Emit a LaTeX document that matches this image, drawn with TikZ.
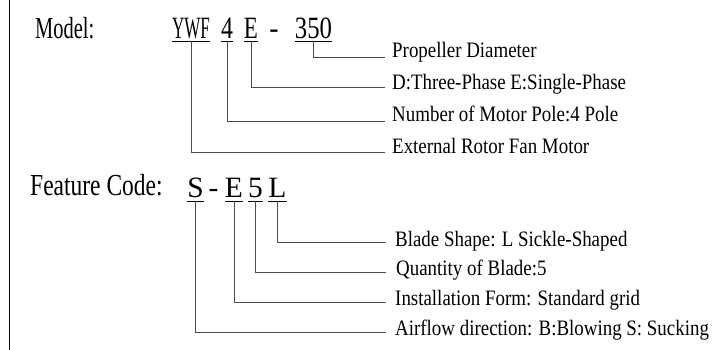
\documentclass[tikz,border=0pt]{standalone}
\usepackage{fontspec}
\setmainfont{Liberation Serif}
\newfontfamily\serD[FakeStretch=0.86]{Liberation Serif}
\newfontfamily\serF{Liberation Serif}
\newcommand{\xsq}[2]{\scalebox{#1}[1]{#2}}
\tikzset{
  desc/.style={anchor=base west,inner sep=0pt,font=\serD\fontsize{22}{22}\selectfont},
  codeM/.style={anchor=base,inner sep=0pt,text depth=0pt,font=\serF\fontsize{31}{31}\selectfont},
  codeF/.style={anchor=base,inner sep=0pt,text depth=0pt,font=\serF\fontsize{29.5}{29.5}\selectfont},
  lab/.style={anchor=base west,inner sep=0pt,font=\serF\fontsize{30.5}{30.5}\selectfont},
  conn/.style={draw=black!70,line width=0.9pt},
  uline/.style={draw=black,line width=0.9pt}
}
\begin{document}
\begin{tikzpicture}[x=1pt,y=-1pt]
\useasboundingbox (0,0) rectangle (720,350);
\draw[line width=1pt] (9.5,0) -- (9.5,350);

% Model line
\node[lab] (model) at (35,38.5) {\xsq{0.67}{Model:}};
\node[codeM,minimum width=38pt] (ywf) at (191,39) {\xsq{0.55}{YWF}};
\node[codeM,minimum width=12pt] (m4) at (227,39) {\xsq{0.77}{4}};
\node[codeM,minimum width=14pt] (me) at (251,39) {\xsq{0.74}{E}};
\node[codeM] (mdash) at (274,39) {\xsq{0.9}{-}};
\node[codeM,minimum width=37pt] (m350) at (313.5,39) {\xsq{0.8}{350}};
\foreach \n in {ywf,m4,me,m350}{
  \draw[uline] ([yshift=-2pt]\n.south west) -- ([yshift=-2pt]\n.south east);
}

\coordinate (c1) at (385,57);
\coordinate (c2) at (385,87);
\coordinate (c3) at (385,121);
\coordinate (c4) at (385,152);
\draw[conn] ([yshift=-2pt]m350.south) |- (c1);
\draw[conn] ([yshift=-2pt]me.south) |- (c2);
\draw[conn] ([yshift=-2pt]m4.south) |- (c3);
\draw[conn] ([yshift=-2pt]ywf.south) |- (c4);
\node[desc] (t1) at (392,57.5) {Propeller Diameter};
\node[desc] (t2) at (392,90) {D:Three-Phase E:Single-Phase};
\node[desc] (t3) at (392,122) {Number of Motor Pole:4 Pole};
\node[desc] (t4) at (392,153.5) {External Rotor Fan Motor};

% Feature code
\node[lab] (feat) at (30,195) {\xsq{0.77}{Feature Code:}};
\node[codeF,minimum width=15pt] (fs) at (195.5,197.5) {S};
\node[codeF] (fdash) at (213.5,197.5) {-};
\node[codeF,minimum width=18pt] (fe) at (234,197.5) {E};
\node[codeF,minimum width=15pt] (f5) at (255.5,197.5) {5};
\node[codeF,minimum width=19pt] (fl) at (277.5,197.5) {L};
\foreach \n in {fs,fe,f5,fl}{
  \draw[uline] ([yshift=-3.5pt]\n.south west) -- ([yshift=-3.5pt]\n.south east);
}
\coordinate (d1) at (385.5,242);
\coordinate (d2) at (385.5,272);
\coordinate (d3) at (385.5,302.5);
\coordinate (d4) at (385.5,332.5);
\draw[conn] ([yshift=-3.5pt]fl.south) |- (d1);
\draw[conn] ([yshift=-3.5pt]f5.south) |- (d2);
\draw[conn] ([yshift=-3.5pt]fe.south) |- (d3);
\draw[conn] ([yshift=-3.5pt]fs.south) |- (d4);
\node[desc] (u1) at (395,246) {Blade Shape: L Sickle-Shaped};
\node[desc] (u2) at (396,275.5) {Quantity of Blade:5};
\node[desc] (u3) at (395,305.5) {Installation Form: Standard grid};
\node[desc] (u4) at (395,335.5) {Airflow direction: B:Blowing S: Sucking};
\end{tikzpicture}
\end{document}
